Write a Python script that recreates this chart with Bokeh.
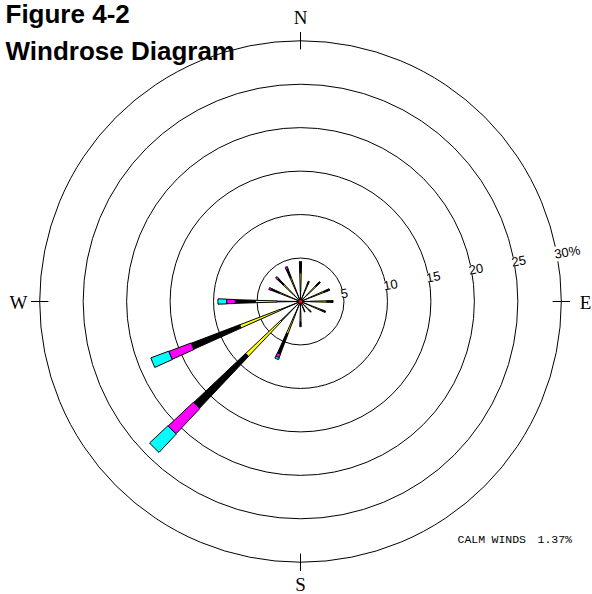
import math
from bokeh.plotting import figure
from bokeh.models import ColumnDataSource, Label
from bokeh.core.properties import value
from bokeh.embed import file_html
from bokeh.resources import INLINE

# ---------------- data ----------------
directions = ["N", "NNE", "NE", "ENE", "E", "ESE", "SE", "SSE",
              "S", "SSW", "SW", "WSW", "W", "WNW", "NW", "NNW"]
dir_degrees = [0, 22.5, 45, 67.5, 90, 112.5, 135, 157.5,
               180, 202.5, 225, 247.5, 270, 292.5, 315, 337.5]
# frequency (%) of each wind-speed class per direction
class1 = [1.2, 0.8, 1.0, 1.1, 1.1, 1.0, 0.7, 0.6, 1.0, 1.7, 3.1, 2.5, 2.7, 1.1, 1.1, 1.2]
class2 = [2.1, 1.2, 1.5, 1.8, 1.9, 1.5, 0.7, 0.5, 1.3, 2.3, 5.6, 5.0, 2.5, 1.6, 1.6, 1.8]
class3 = [1.3, 0.5, 0.65, 0.7, 0.75, 0.6, 0.3, 0.2, 0.6, 2.5, 8.2, 5.95, 2.3, 0.9, 0.95, 1.0]
class4 = [0, 0, 0, 0, 0, 0, 0, 0, 0, 0.4, 4.0, 2.75, 1.0, 0.3, 0.3, 0.3]
class5 = [0, 0, 0, 0, 0, 0, 0, 0, 0, 0.25, 2.9, 2.2, 1.0, 0, 0, 0]
class_colors = ["#00a000", "#ffff00", "#000000", "#ff00ff", "#00ffff"]
class_width_deg = [2.0, 3.0, 3.2, 3.5, 3.7]

rings = [5, 10, 15, 20, 25, 30]
ring_labels = ["5", "10", "15", "20", "25", "30%"]
compass = ["N", "E", "S", "W"]
compass_deg = [0, 90, 180, 270]
calm_words = ["CALM", "WINDS", "1.37%"]

# ---------------- geometry ----------------
OFF = 8                      # figure is pulled 8px up/left over the page margin
W_PX, H_PX = 592 + OFF, 594 + OFF
CX, CY = 300 + OFF, 301 + OFF
PX = 260.8 / 30.0            # pixels per percent


def sy(img_y):
    """screen-units y (from bottom) for a picture row"""
    return H_PX - (img_y + OFF)


p = figure(width=W_PX, height=H_PX,
           x_range=(-CX / PX, (W_PX - CX) / PX),
           y_range=(-(H_PX - CY) / PX, CY / PX),
           x_axis_type=None, y_axis_type=None,
           toolbar_location=None, output_backend="svg",
           min_border=0, outline_line_color=None,
           background_fill_color="white", border_fill_color="white")
p.styles = {"margin": "-8px"}

# rings
p.circle(x=0, y=0, radius=rings, fill_color=None, line_color="black", line_width=1)

# compass ticks
t0 = [30 - 1.0] * 4
t1 = [30 + 1.0] * 4
p.segment(x0=[r * math.sin(math.radians(d)) for r, d in zip(t0, compass_deg)],
          y0=[r * math.cos(math.radians(d)) for r, d in zip(t0, compass_deg)],
          x1=[r * math.sin(math.radians(d)) for r, d in zip(t1, compass_deg)],
          y1=[r * math.cos(math.radians(d)) for r, d in zip(t1, compass_deg)],
          line_color="black", line_width=1)

# spokes
classes = [class1, class2, class3, class4, class5]
seg = dict(r0=[], r1=[], a0=[], a1=[], color=[])
for i, d in enumerate(dir_degrees):
    cum = 0.0
    for k, cl in enumerate(classes):
        v = cl[i]
        if v <= 0:
            continue
        math_ang = 90 - d
        half = class_width_deg[k] / 2
        seg["r0"].append(cum)
        seg["r1"].append(cum + v)
        seg["a0"].append(math_ang - half)
        seg["a1"].append(math_ang + half)
        seg["color"].append(class_colors[k])
        cum += v
src = ColumnDataSource(seg)
p.annular_wedge(x=0, y=0, inner_radius="r0", outer_radius="r1",
                start_angle="a0", end_angle="a1", start_angle_units="deg",
                end_angle_units="deg", fill_color="color", line_color="black",
                line_width=1.0, source=src)
p.circle(x=[0], y=[0], radius=0.2, fill_color="red", line_color=None)

# ring labels
lab_ang = 10.5
lr = [r - 0.3 for r in rings]
p.text(x=[r * math.cos(math.radians(lab_ang)) for r in lr],
       y=[r * math.sin(math.radians(lab_ang)) for r in lr],
       text=ring_labels, angle=lab_ang, angle_units="deg",
       text_align="left", text_baseline="middle",
       text_font=value("Liberation Sans"), text_font_size="13px",
       text_color="black", background_fill_color="white")

# compass letters
letter_pos = [(0, (301 - 16.5) / PX), ((585 - 300) / PX, (301 - 301.5) / PX),
              (0, (301 - 584) / PX), ((18 - 300) / PX, (301 - 301.5) / PX)]
p.text(x=[a for a, b in letter_pos], y=[b for a, b in letter_pos], text=compass,
       text_align="center", text_baseline="middle",
       text_font=value("Liberation Serif"), text_font_size="19px", text_color="black")

# titles
p.add_layout(Label(x=5 + OFF, y=sy(28), x_units="screen", y_units="screen",
                   text="Figure 4-2", text_font="Liberation Sans",
                   text_font_style="bold", text_font_size="26px", text_color="black"))
p.add_layout(Label(x=5 + OFF, y=sy(65), x_units="screen", y_units="screen",
                   text="Windrose Diagram", text_font="Liberation Sans",
                   text_font_style="bold", text_font_size="26px", text_color="black"))

# calm winds
for word, xs in zip(calm_words, [457, 491, 537]):
    p.add_layout(Label(x=xs + OFF, y=sy(545), x_units="screen", y_units="screen",
                       text=word, text_font="Liberation Mono",
                       text_font_size="11.5px", text_color="black"))

open("out.html", "w").write(file_html(p, INLINE))
